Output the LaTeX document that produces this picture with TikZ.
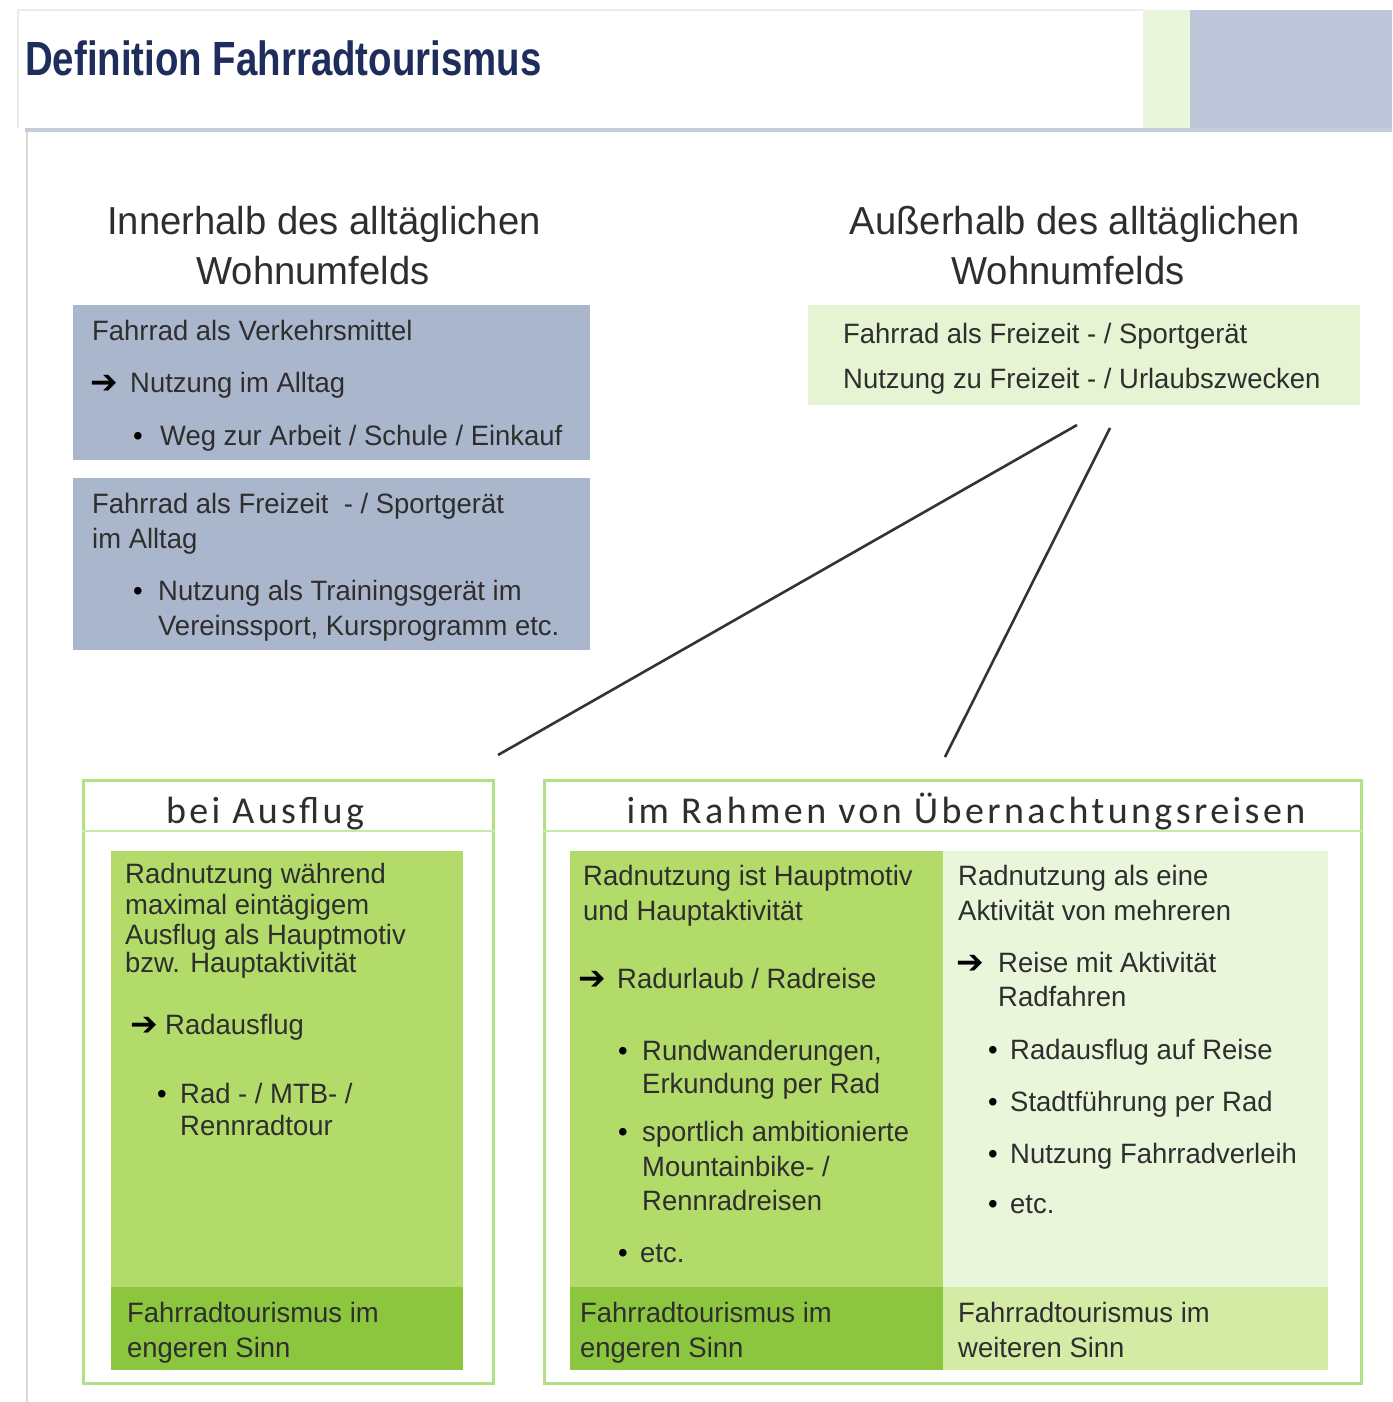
\documentclass[tikz,border=0pt]{standalone}
\usepackage{fontspec}
\setmainfont{Liberation Sans}[FakeStretch=0.98]
\newfontfamily\titlefont{Liberation Sans}[FakeStretch=0.8]
\newfontfamily\capfont{Carlito}[LetterSpace=9]
\newfontfamily\symfont{DejaVu Sans}
\definecolor{navy}{HTML}{1F2D5C}
\definecolor{txtcol}{HTML}{2E2E2E}
\definecolor{bluebox}{HTML}{AAB6CC}
\definecolor{hdrblue}{HTML}{BDC5D8}
\definecolor{hdrgreen}{HTML}{EAF6DC}
\definecolor{palegreen}{HTML}{E6F4D3}
\definecolor{framegreen}{HTML}{B2E084}
\definecolor{midgreen}{HTML}{B3DB6A}
\definecolor{stronggreen}{HTML}{8CC63F}
\definecolor{lightgreen}{HTML}{EAF6DA}
\definecolor{softgreen}{HTML}{D4EBA6}
\definecolor{panelline}{HTML}{C5CCDA}
\begin{document}
\begin{tikzpicture}[x=1pt,y=-1pt,
  txt/.style={anchor=base west, inner sep=0, font=\fontsize{28}{34}\selectfont, text=txtcol},
  headtxt/.style={anchor=base, inner sep=0, font=\fontsize{39}{46}\selectfont, text=txtcol},
  captxt/.style={anchor=base, inner sep=0, font=\capfont\fontsize{38}{44}\selectfont, text=txtcol},
  arr/.style={anchor=base west, inner sep=0, font=\symfont\bfseries\fontsize{33}{36}\selectfont, text=black},
  bul/.style={anchor=base west, inner sep=0, font=\fontsize{28}{34}\selectfont, text=black},
  area/.style={anchor=north west, inner sep=0, draw=none},
  frm/.style={anchor=north west, inner sep=0, draw=framegreen, line width=3pt, fill=white},
  conn/.style={draw=black!80, line width=2.6pt}]
\useasboundingbox (0,0) rectangle (1392,1402);
\fill[white] (0,0) rectangle (1392,1402);
% header
\node[area, fill=hdrgreen, minimum width=47pt, minimum height=118pt] (hg) at (1143,10) {};
\node[area, fill=hdrblue, minimum width=202pt, minimum height=118pt] (hb) at (1190,10) {};
\draw[black!8, line width=1.5pt] (18,128) -- (18,10) -- (1143,10);
\draw[panelline, line width=4pt] (25,130) -- (1392,130);
\draw[black!15, line width=2pt] (27,132) -- (27,1402);
\node[anchor=base west, inner sep=0, font=\titlefont\bfseries\fontsize{48}{54}\selectfont, text=navy] (title) at (25,76) {Definition Fahrradtourismus};
% headings
\node[headtxt] (hl1) at (324,234) {Innerhalb des alltäglichen};
\node[headtxt] (hl2) at (313,284) {Wohnumfelds};
\node[headtxt] (hr1) at (1075,234) {Außerhalb des alltäglichen};
\node[headtxt] (hr2) at (1068,284) {Wohnumfelds};
% left boxes
\node[area, fill=bluebox, minimum width=517pt, minimum height=155pt] (b1) at (73,305) {};
\node[txt] (b1a) at (92,340) {Fahrrad als Verkehrsmittel};
\node[arr] (b1r) at (90,393) {➔};
\node[txt] (b1b) at (130,392) {Nutzung im Alltag};
\node[bul] (b1p) at (133,445) {•};
\node[txt] (b1c) at (160,445) {Weg zur Arbeit / Schule / Einkauf};
\node[area, fill=bluebox, minimum width=517pt, minimum height=172pt] (b2) at (73,478) {};
\node[txt] (b2a) at (92,513) {Fahrrad als Freizeit\ \ - / Sportgerät};
\node[txt] (b2b) at (92,548) {im Alltag};
\node[bul] (b2p) at (133,600) {•};
\node[txt] (b2c) at (158,600) {Nutzung als Trainingsgerät im};
\node[txt] (b2d) at (158,635) {Vereinssport, Kursprogramm etc.};
% right top box
\node[area, fill=palegreen, minimum width=552pt, minimum height=100pt] (g1) at (808,305) {};
\node[txt] (g1a) at (843,343) {Fahrrad als Freizeit - / Sportgerät};
\node[txt] (g1b) at (843,388) {Nutzung zu Freizeit - / Urlaubszwecken};
% connectors
\coordinate (c1s) at (1077,425);
\coordinate (c1e) at (498,755);
\coordinate (c2s) at (1110,428);
\coordinate (c2e) at (945,757);
\draw[conn] (c1s) -- (c1e);
\draw[conn] (c2s) -- (c2e);
% bottom left frame
\node[frm, minimum width=410pt, minimum height=603pt] (fa) at (82,779) {};
\draw[framegreen!70, line width=1.2pt] (fa.north west |- 0,831) -- (fa.north east |- 0,831);
\node[captxt] (fat) at (265,823) {bei Ausflug};
\node[area, fill=midgreen, minimum width=352pt, minimum height=436pt] (au) at (111,851) {};
\node[area, fill=stronggreen, minimum width=352pt, minimum height=83pt] (al) at (111,1287) {};
\node[txt] (a1) at (125,883) {Radnutzung während};
\node[txt] (a2) at (125,914) {maximal eintägigem};
\node[txt] (a3) at (125,944) {Ausflug als Hauptmotiv};
\node[txt] (a4) at (125,972) {bzw. Hauptaktivität};
\node[arr] (ar) at (130,1035) {➔};
\node[txt] (a5) at (165,1034) {Radausflug};
\node[bul] (ap) at (157,1103) {•};
\node[txt] (a6) at (180,1103) {Rad - / MTB- /};
\node[txt] (a7) at (180,1135) {Rennradtour};
\node[txt] (a8) at (127,1322) {Fahrradtourismus im};
\node[txt] (a9) at (127,1357) {engeren Sinn};
% bottom right frame
\node[frm, minimum width=817pt, minimum height=603pt] (fb) at (543,779) {};
\draw[framegreen!70, line width=1.2pt] (fb.north west |- 0,831) -- (fb.north east |- 0,831);
\node[captxt] (fbt) at (966,823) {im Rahmen von Übernachtungsreisen};
\node[area, fill=midgreen, minimum width=373pt, minimum height=436pt] (lu) at (570,851) {};
\node[area, fill=stronggreen, minimum width=373pt, minimum height=83pt] (ll) at (570,1287) {};
\node[area, fill=lightgreen, minimum width=385pt, minimum height=436pt] (ru) at (943,851) {};
\node[area, fill=softgreen, minimum width=385pt, minimum height=83pt] (rl) at (943,1287) {};
\node[txt] (l1) at (583,885) {Radnutzung ist Hauptmotiv};
\node[txt] (l2) at (583,920) {und Hauptaktivität};
\node[arr] (lr) at (578,989) {➔};
\node[txt] (l3) at (617,988) {Radurlaub / Radreise};
\node[bul] (lp1) at (618,1060) {•};
\node[txt] (l4) at (642,1060) {Rundwanderungen,};
\node[txt] (l5) at (642,1093) {Erkundung per Rad};
\node[bul] (lp2) at (618,1141) {•};
\node[txt] (l6) at (642,1141) {sportlich ambitionierte};
\node[txt] (l7) at (642,1176) {Mountainbike- /};
\node[txt] (l8) at (642,1210) {Rennradreisen};
\node[bul] (lp3) at (618,1262) {•};
\node[txt] (l9) at (640,1262) {etc.};
\node[txt] (l10) at (580,1322) {Fahrradtourismus im};
\node[txt] (l11) at (580,1357) {engeren Sinn};
\node[txt] (r1) at (958,885) {Radnutzung als eine};
\node[txt] (r2) at (958,920) {Aktivität von mehreren};
\node[arr] (rr) at (956,973) {➔};
\node[txt] (r3) at (998,972) {Reise mit Aktivität};
\node[txt] (r4) at (998,1006) {Radfahren};
\node[bul] (rp1) at (988,1059) {•};
\node[txt] (r5) at (1010,1059) {Radausflug auf Reise};
\node[bul] (rp2) at (988,1111) {•};
\node[txt] (r6) at (1010,1111) {Stadtführung per Rad};
\node[bul] (rp3) at (988,1163) {•};
\node[txt] (r7) at (1010,1163) {Nutzung Fahrradverleih};
\node[bul] (rp4) at (988,1213) {•};
\node[txt] (r8) at (1010,1213) {etc.};
\node[txt] (r9) at (958,1322) {Fahrradtourismus im};
\node[txt] (r10) at (958,1357) {weiteren Sinn};
\end{tikzpicture}
\end{document}
